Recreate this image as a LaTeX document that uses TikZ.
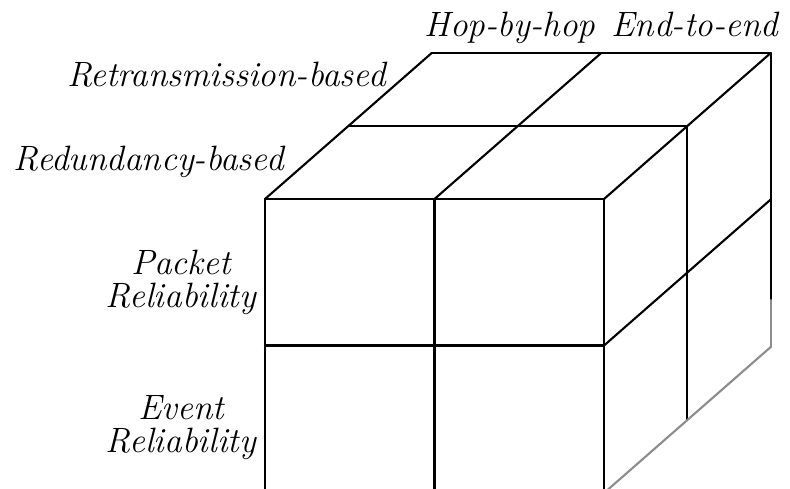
\documentclass[tikz,border=0pt]{standalone}
\begin{document}
\begin{tikzpicture}[x=0.5pt,y=-0.5pt,
  edge/.style={line width=1.05pt, line cap=round, line join=round},
  faded/.style={edge, draw=black!45},
  lab/.style={inner sep=0pt, font=\fontsize{17.6}{16.5}\selectfont\itshape},
  labc/.style={lab, align=center}]
\useasboundingbox (0,0) rectangle (790,488);
\clip (0,0) rectangle (790,488);
% front face corners
\coordinate (f00) at (265,199);
\coordinate (f10) at (434.5,199);
\coordinate (f20) at (604,199);
\coordinate (f01) at (265,345.5);
\coordinate (f11) at (434.5,345.5);
\coordinate (f21) at (604,345.5);
\coordinate (f02) at (265,493);
\coordinate (f12) at (434.5,493);
\coordinate (f22) at (604,493);
% depth 1
\coordinate (m00) at (348.3,126);
\coordinate (m20) at (687.3,126);
\coordinate (m22) at (687.3,420);
% depth 2
\coordinate (b00) at (431.7,53);
\coordinate (b10) at (601.2,53);
\coordinate (b20) at (770.7,53);
\coordinate (b21) at (770.7,199.5);
\coordinate (b2h) at (770.7,300);
\coordinate (b22) at (770.7,347);
% front face
\draw[edge] (f00) -- (f20);
\draw[edge] (f01) -- (f21);
\draw[edge] (f00) -- (f02);
\draw[edge] (f10) -- (f12);
\draw[edge] (f20) -- (f22);
% top face
\draw[edge] (f00) -- (b00);
\draw[edge] (f10) -- (b10);
\draw[edge] (f20) -- (b20);
\draw[edge] (m00) -- (m20);
\draw[edge] (b00) -- (b20);
% right face
\draw[edge] (m20) -- (m22);
\draw[edge] (b20) -- (b2h);
\draw[faded] (b2h) -- (b22);
\draw[edge] (f21) -- (b21);
\draw[faded] (f22) -- (b22);
% labels
\node[lab, anchor=base] (hop) at (510,36) {Hop-by-hop};
\node[lab, anchor=base] (e2e) at (695,36) {End-to-end};
\node[lab, anchor=base east] (retx) at (386,86) {Retransmission-based};
\node[lab, anchor=base east] (redu) at (284,170) {Redundancy-based};
\node[labc] (pkt) at (181,282) {Packet\\Reliability};
\node[labc] (evt) at (181,428) {Event\\Reliability};
\end{tikzpicture}
\end{document}
